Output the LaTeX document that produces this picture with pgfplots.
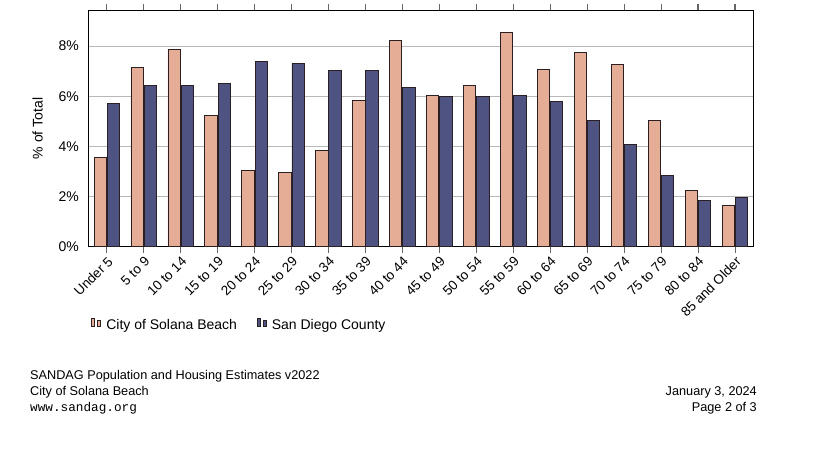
\documentclass[border=0pt]{standalone}
\usepackage{pgfplots}
\pgfplotsset{compat=1.18}
\usepackage{fontspec}
\setmainfont{Liberation Sans}
\setmonofont{Liberation Mono}
\definecolor{solana}{HTML}{E6AD96}
\definecolor{sdcounty}{HTML}{4E5382}
\definecolor{edgec}{HTML}{2A2024}
\begin{document}
\begin{tikzpicture}
\path[use as bounding box] (-88.3pt,-205.3pt) rectangle (746.7pt,246.7pt);
\begin{axis}[
  at={(0,0)}, anchor=south west,
  scale only axis, width=665pt, height=236.4pt,
  ybar, bar width=12.3pt,
  xmin=-0.5, xmax=17.5, ymin=0, ymax=9.43,
  xtick=data,
  xtick pos=both,
  xticklabels={Under 5,5 to 9,10 to 14,15 to 19,20 to 24,25 to 29,30 to 34,35 to 39,40 to 44,45 to 49,50 to 54,55 to 59,60 to 64,65 to 69,70 to 74,75 to 79,80 to 84,85 and Older},
  x tick label style={rotate=45, anchor=north east, font=\fontsize{13.5}{16}\selectfont, inner sep=2pt},
  ytick={0,2,4,6,8},
  yticklabels={0\%,2\%,4\%,6\%,8\%},
  y tick label style={font=\fontsize{14}{16}\selectfont},
  tick align=outside,
  major tick length=6pt,
  xtick style={draw=black!60, line width=0.6pt},
  ytick style={draw=none},
  ymajorgrids, major grid style={draw=black!28, line width=0.7pt},
  axis line style={line width=0.9pt, black},
  ylabel={\% of Total},
  ylabel style={font=\fontsize{14}{16}\selectfont, at={(ticklabel cs:0.5)}, anchor=south, yshift=9pt},
  legend columns=2,
  legend style={at={(0.0,-0.33)}, anchor=west, draw=none, fill=none,
    font=\fontsize{14}{16}\selectfont, column sep=3pt,
    /tikz/every even column/.append style={column sep=18pt}},
  legend cell align=left,
]
\addplot[fill=solana, draw=edgec, line width=0.8pt, bar shift=-6.6pt] coordinates {
(0,3.57) (1,7.16) (2,7.88) (3,5.24) (4,3.05) (5,2.97) (6,3.85) (7,5.84) (8,8.24)
(9,6.04) (10,6.44) (11,8.56) (12,7.08) (13,7.76) (14,7.28) (15,5.05) (16,2.25) (17,1.65)};
\addplot[fill=sdcounty, draw=edgec, line width=0.8pt, bar shift=6.6pt] coordinates {
(0,5.72) (1,6.44) (2,6.44) (3,6.52) (4,7.40) (5,7.32) (6,7.04) (7,7.04) (8,6.36)
(9,6.00) (10,6.00) (11,6.04) (12,5.80) (13,5.05) (14,4.09) (15,2.85) (16,1.85) (17,1.97)};
\legend{City of Solana Beach, San Diego County}
\end{axis}
\begin{axis}[
  at={(0,236.4pt)}, anchor=south west,
  scale only axis, width=665pt, height=6pt,
  xmin=-0.5, xmax=17.5, ymin=0, ymax=1,
  hide y axis, axis line style={draw=none},
  xtick={0,1,...,17}, xticklabels={}, xtick pos=left,
  xmajorgrids, major grid style={draw=black!60, line width=0.8pt},
  major tick length=0pt,
]
\end{axis}
\begin{scope}[font=\fontsize{12.7}{16}\selectfont]
\node[anchor=west, inner sep=0pt] at (-58.3pt,-129.3pt) {SANDAG Population and Housing Estimates v2022};
\node[anchor=west, inner sep=0pt] at (-58.3pt,-145.3pt) {City of Solana Beach};
\node[anchor=west, inner sep=0pt] at (-58.3pt,-161.3pt) {\ttfamily www.sandag.org};
\node[anchor=east, inner sep=0pt] at (668.7pt,-145.3pt) {January 3, 2024};
\node[anchor=east, inner sep=0pt] at (668.7pt,-161.3pt) {Page 2 of 3};
\end{scope}
\end{tikzpicture}
\end{document}
